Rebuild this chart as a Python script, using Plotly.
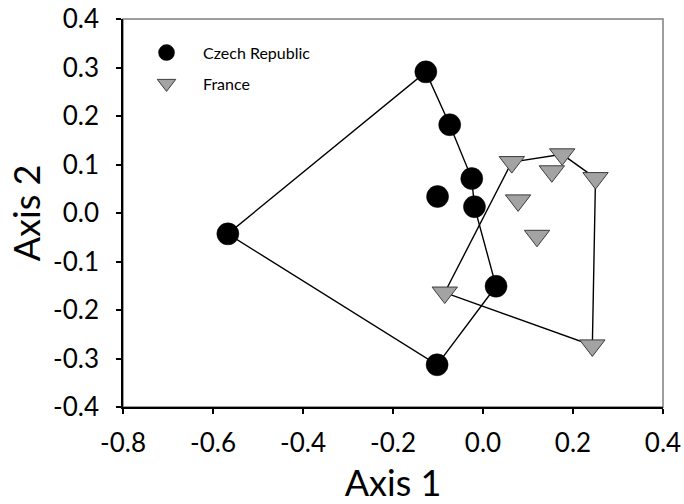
import plotly.graph_objects as go

# Czech Republic points
cz_x = [-0.567, -0.127, -0.074, -0.025, -0.101, -0.019, 0.029, -0.102]
cz_y = [-0.043, 0.291, 0.182, 0.071, 0.034, 0.013, -0.151, -0.313]
# Czech hull order (indices)
cz_hull = [0, 1, 2, 3, 5, 6, 7, 0]

# France points
fr_x = [0.064, 0.176, 0.153, 0.250, 0.078, 0.120, -0.085, 0.243]
fr_y = [0.105, 0.121, 0.086, 0.072, 0.026, -0.047, -0.164, -0.273]
fr_hull = [6, 0, 1, 3, 7, 6]

x_ticks = [-0.8, -0.6, -0.4, -0.2, 0.0, 0.2, 0.4]
x_ticktext = ["-0.8", "-0.6", "-0.4", "-0.2", "0.0", "0.2", "0.4"]
y_ticks = [-0.4, -0.3, -0.2, -0.1, 0.0, 0.1, 0.2, 0.3, 0.4]
y_ticktext = ["-0.4", "-0.3", "-0.2", "-0.1", "0.0", "0.1", "0.2", "0.3", "0.4"]

FONT = "Lato"

fig = go.Figure()

fig.add_trace(go.Scatter(
    x=[cz_x[i] for i in cz_hull], y=[cz_y[i] for i in cz_hull],
    mode="lines", line=dict(color="black", width=1.4),
    showlegend=False, hoverinfo="skip"))
fig.add_trace(go.Scatter(
    x=[fr_x[i] for i in fr_hull], y=[fr_y[i] for i in fr_hull],
    mode="lines", line=dict(color="black", width=1.4),
    showlegend=False, hoverinfo="skip"))

fig.add_trace(go.Scatter(
    x=cz_x, y=cz_y, mode="markers", name="Czech Republic", legendgroup="cz",
    marker=dict(symbol="circle", size=22, color="black",
                line=dict(color="black", width=0.5))))
fig.add_trace(go.Scatter(
    x=fr_x, y=fr_y, mode="markers", name="France", legendgroup="fr",
    marker=dict(symbol="triangle-down", size=22, color="#A3A3A3",
                line=dict(color="#3c3c3c", width=1))))

fig.update_layout(
    width=684, height=504,
    margin=dict(l=123, r=21, t=19, b=97),
    paper_bgcolor="white", plot_bgcolor="white",
    font=dict(family=FONT, color="black"),
    showlegend=True,
    legend=dict(x=0.013, y=0.957, xanchor="left", yanchor="top",
                bgcolor="rgba(0,0,0,0)", font=dict(size=16, family=FONT),
                itemwidth=63, tracegroupgap=7, traceorder="grouped"),
    shapes=[dict(type="rect", xref="paper", yref="paper", x0=0, y0=0, x1=1, y1=1,
                 line=dict(color="#7f7f7f", width=1.5), layer="below")],
)

fig.update_xaxes(
    range=[-0.8, 0.4], tickvals=x_ticks, ticktext=x_ticktext, automargin=False,
    showgrid=False, zeroline=False, showline=True, linecolor="black", linewidth=1.5,
    ticks="outside", ticklen=5, tickwidth=1.5, tickcolor="black",
    tickfont=dict(size=26, family=FONT), ticklabelstandoff=7,
    title=dict(text="Axis 1", font=dict(size=36, family=FONT), standoff=14),
)
fig.update_yaxes(
    range=[-0.4, 0.4], tickvals=y_ticks, ticktext=y_ticktext, automargin=False,
    showgrid=False, zeroline=False, showline=True, linecolor="black", linewidth=1.5,
    ticks="outside", ticklen=5, tickwidth=1.5, tickcolor="black",
    tickfont=dict(size=26, family=FONT), ticklabelstandoff=12,
    title=dict(text="Axis 2", font=dict(size=36, family=FONT), standoff=1),
)

fig.write_html("out.html", config={"displayModeBar": False},
               post_script="document.body.style.margin='0';")
